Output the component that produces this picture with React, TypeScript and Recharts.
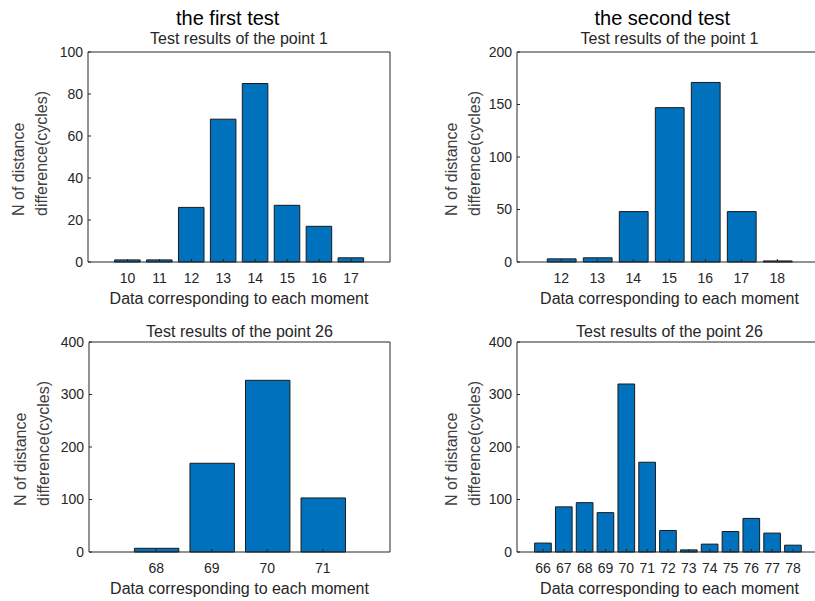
import { BarChart, Bar, XAxis, YAxis } from 'recharts';

const FONT = '"Liberation Sans", Arial, Helvetica, sans-serif';
const INK = '#262626';
const LABEL_INK = '#404040';
const BAR_BLUE = '#0072BD';
const BAR_EDGE = '#1a1a1a';
const Y_AXIS_W = 40;
// the mirrored top/right axes need a non-zero size to be drawn
const BOX_AXIS = 1;

// first test, point 1
const firstP1Moments = [10, 11, 12, 13, 14, 15, 16, 17];
const firstP1Counts = [1, 1, 26, 68, 85, 27, 17, 2];

// second test, point 1
const secondP1Moments = [12, 13, 14, 15, 16, 17, 18];
const secondP1Counts = [3, 4, 48, 147, 171, 48, 1];

// first test, point 26
const firstP26Moments = [68, 69, 70, 71];
const firstP26Counts = [7, 169, 327, 103];

// second test, point 26
const secondP26Moments = [66, 67, 68, 69, 70, 71, 72, 73, 74, 75, 76, 77, 78];
const secondP26Counts = [17, 86, 94, 75, 320, 171, 41, 4, 15, 39, 64, 36, 13];

const yTicksFirstP1 = [0, 20, 40, 60, 80, 100];
const yTicksSecondP1 = [0, 50, 100, 150, 200];
const yTicksP26 = [0, 100, 200, 300, 400];

const suptitles = ['the first test', 'the second test'];
const titleP1 = 'Test results of the point 1';
const titleP26 = 'Test results of the point 26';
const xLabel = 'Data corresponding to each moment';
const yLabelLines = ['N of distance', 'difference(cycles)'];

interface Box { left: number; top: number; width: number; height: number }
interface Plot { left: number; top: number; right: number; bottom: number }

interface PanelProps {
  moments: number[];
  counts: number[];
  yTicks: number[];
  xDomain: [number, number];
  title: string;
  box: Box;
  plot: Plot;
  titleY: number;
  yLabelX: [number, number];
}

function Panel({ moments, counts, yTicks, xDomain, title, box, plot, titleY, yLabelX }: PanelProps) {
  const data = moments.map((m, i) => ({ moment: m, count: counts[i] }));
  const plotW = plot.right - plot.left;
  const plotH = plot.bottom - plot.top;
  const unit = plotW / (xDomain[1] - xDomain[0]);
  const yDomain = [yTicks[0], yTicks[yTicks.length - 1]];
  const cx = plot.left + plotW / 2;
  const cy = plot.top + plotH / 2;
  const yLabelStart = cy + 59;

  const axisLine = { stroke: INK, strokeWidth: 1 };
  const tickLine = { stroke: INK, strokeWidth: 1 };
  const tickFont = { fill: INK, fontSize: 14, fontFamily: FONT };

  return (
    <div style={{ position: 'absolute', left: box.left, top: box.top }}>
      <BarChart
        width={box.width}
        height={box.height}
        data={data}
        margin={{
          top: plot.top - BOX_AXIS,
          right: box.width - plot.right - BOX_AXIS,
          bottom: 0,
          left: plot.left - Y_AXIS_W,
        }}
      >
        <XAxis
          dataKey="moment"
          type="number"
          domain={xDomain}
          ticks={moments}
          interval={0}
          allowDataOverflow
          height={box.height - plot.bottom}
          tickSize={-3}
          tickMargin={14}
          axisLine={axisLine}
          tickLine={tickLine}
          tick={tickFont}
          label={{
            content: () => (
              <text x={cx} y={plot.bottom + 41.5} textAnchor="middle" fill={INK} fontSize={16} fontFamily={FONT}>
                {xLabel}
              </text>
            ),
          }}
        />
        <XAxis
          xAxisId="top"
          orientation="top"
          dataKey="moment"
          type="number"
          domain={xDomain}
          ticks={moments}
          interval={0}
          allowDataOverflow
          height={BOX_AXIS}
          tickSize={-3}
          axisLine={axisLine}
          tickLine={tickLine}
          tick={false}
          label={{
            content: () => (
              <text x={cx} y={titleY} textAnchor="middle" fill={INK} fontSize={16} fontFamily={FONT}>
                {title}
              </text>
            ),
          }}
        />
        <YAxis
          type="number"
          domain={yDomain}
          ticks={yTicks}
          interval={0}
          width={Y_AXIS_W}
          tickSize={-3}
          tickMargin={8}
          axisLine={axisLine}
          tickLine={tickLine}
          tick={tickFont}
          label={{
            content: () => (
              <g fill={LABEL_INK} fontSize={16} fontFamily={FONT}>
                <text x={yLabelX[0]} y={yLabelStart} transform={`rotate(-90 ${yLabelX[0]} ${yLabelStart})`}>
                  {yLabelLines[0]}
                </text>
                <text x={yLabelX[1]} y={yLabelStart} transform={`rotate(-90 ${yLabelX[1]} ${yLabelStart})`}>
                  {yLabelLines[1]}
                </text>
              </g>
            ),
          }}
        />
        <YAxis
          yAxisId="right"
          orientation="right"
          type="number"
          domain={yDomain}
          ticks={yTicks}
          interval={0}
          width={BOX_AXIS}
          tickSize={-3}
          axisLine={axisLine}
          tickLine={tickLine}
          tick={false}
        />
        <Bar
          dataKey="count"
          fill={BAR_BLUE}
          stroke={BAR_EDGE}
          strokeWidth={1}
          barSize={0.8 * unit}
          isAnimationActive={false}
        />
      </BarChart>
    </div>
  );
}

export default function App() {
  return (
    <div
      style={{
        position: 'absolute',
        left: 0,
        top: 0,
        width: 815,
        height: 601,
        overflow: 'hidden',
        background: '#fff',
        fontFamily: FONT,
      }}
    >
      <Panel
        moments={firstP1Moments}
        counts={firstP1Counts}
        yTicks={yTicksFirstP1}
        xDomain={[8.76, 18.22]}
        title={titleP1}
        box={{ left: 0, top: 0, width: 410, height: 310 }}
        plot={{ left: 88, top: 52, right: 390, bottom: 262 }}
        titleY={44}
        yLabelX={[23.5, 46.5]}
      />
      <Panel
        moments={secondP1Moments}
        counts={secondP1Counts}
        yTicks={yTicksSecondP1}
        xDomain={[10.77, 19.24]}
        title={titleP1}
        box={{ left: 410, top: 0, width: 414, height: 310 }}
        plot={{ left: 107, top: 52, right: 412, bottom: 262 }}
        titleY={44}
        yLabelX={[46.5, 69.5]}
      />
      <Panel
        moments={firstP26Moments}
        counts={firstP26Counts}
        yTicks={yTicksP26}
        xDomain={[66.79, 72.21]}
        title={titleP26}
        box={{ left: 0, top: 310, width: 410, height: 291 }}
        plot={{ left: 89, top: 32, right: 390, bottom: 242 }}
        titleY={26.5}
        yLabelX={[26, 49]}
      />
      <Panel
        moments={secondP26Moments}
        counts={secondP26Counts}
        yTicks={yTicksP26}
        xDomain={[64.75, 79.39]}
        title={titleP26}
        box={{ left: 410, top: 310, width: 414, height: 291 }}
        plot={{ left: 107, top: 32, right: 412, bottom: 242 }}
        titleY={26.5}
        yLabelX={[46.5, 69.5]}
      />
      <svg width={815} height={40} style={{ position: 'absolute', left: 0, top: 0 }}>
        <text x={227.7} y={25} textAnchor="middle" fill="#000" fontSize={20} fontFamily={FONT}>
          {suptitles[0]}
        </text>
        <text x={662.3} y={25} textAnchor="middle" fill="#000" fontSize={20} fontFamily={FONT}>
          {suptitles[1]}
        </text>
      </svg>
    </div>
  );
}
